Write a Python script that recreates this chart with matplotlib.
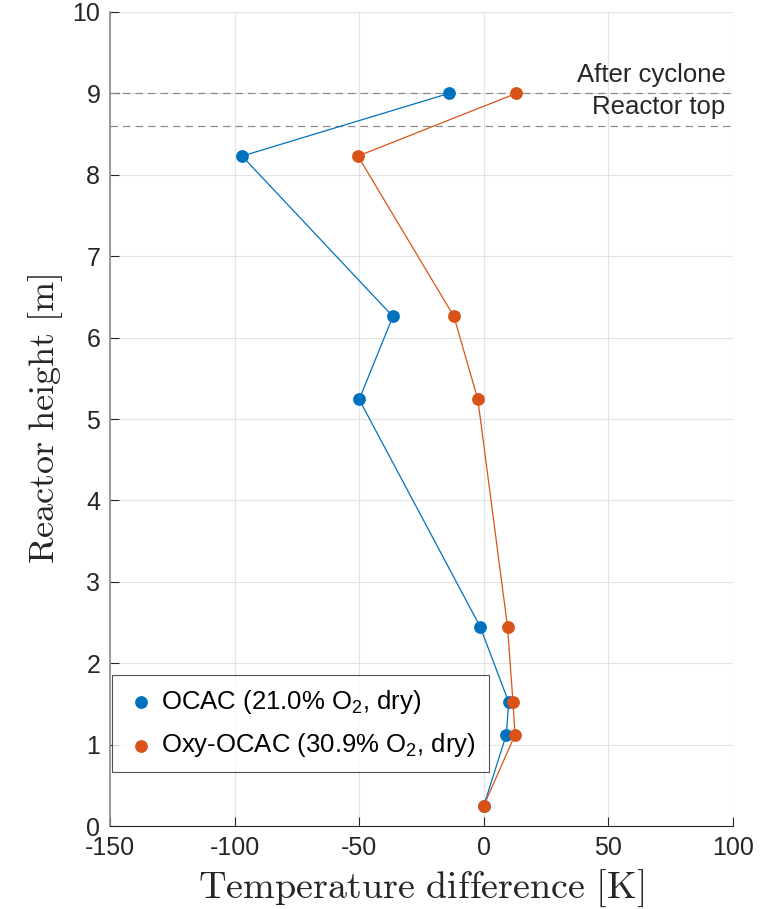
import matplotlib
matplotlib.use("Agg")
import matplotlib.pyplot as plt

plt.rcParams['font.family'] = ['Liberation Sans', 'DejaVu Sans']
plt.rcParams['mathtext.fontset'] = 'custom'
plt.rcParams['mathtext.rm'] = 'Liberation Sans'
plt.rcParams['mathtext.it'] = 'Liberation Sans:italic'

heights = [0.25, 1.12, 1.52, 2.45, 5.24, 6.26, 8.23, 9.0]
ocac = [0, 9, 10, -1.5, -50, -36.5, -97, -14]
oxy_ocac = [0, 12.5, 11.7, 9.5, -2.4, -12, -50.5, 13]
labels = ["OCAC (21.0% O$_2$, dry)", "Oxy-OCAC (30.9% O$_2$, dry)"]
ref_heights = [9.0, 8.6]
ref_labels = ["After cyclone", "Reactor top"]
xticks = [-150, -100, -50, 0, 50, 100]
yticks = list(range(0, 11))

blue = '#0072BD'
orange = '#D95319'

fig = plt.figure(figsize=(7.74, 9.09), dpi=100)
ax = fig.add_axes([0.1421, 0.0913, 0.805, 0.8955])

for yv, lab in zip(ref_heights, ref_labels):
    ax.axhline(yv, color='#8c8c8c', lw=0.9, ls=(0, (6, 4)), zorder=1)
    ax.text(97, yv + 0.08, lab, ha='right', va='bottom', fontsize=18.5, color='#262626')

ax.plot(ocac, heights, '-', color=blue, lw=0.9, zorder=2)
ax.plot(oxy_ocac, heights, '-', color=orange, lw=0.9, zorder=2)
s1 = ax.scatter(ocac, heights, s=85, color=blue, zorder=3, label=labels[0], linewidths=0)
s2 = ax.scatter(oxy_ocac, heights, s=85, color=orange, zorder=3, label=labels[1], linewidths=0)

ax.set_xlim(-150, 100)
ax.set_ylim(0, 10)
ax.set_xticks(xticks)
ax.set_yticks(yticks)
ax.set_xticklabels([str(v) for v in xticks])
ax.tick_params(direction='in', labelsize=18, length=6.5, width=0.8, colors='#262626', pad=7)
ax.grid(True, color='#e3e3e3', lw=0.8, zorder=0)
ax.set_axisbelow(True)
for sp in ['top', 'right']:
    ax.spines[sp].set_visible(False)
ax.spines['bottom'].set_color('#262626')
ax.spines['bottom'].set_linewidth(0.8)
ax.spines['left'].set_color('#8a8a8a')
ax.spines['left'].set_linewidth(1.2)

ax.set_xlabel(r'$\mathrm{Temperature\ difference\ [K]}$', fontsize=27.5,
              math_fontfamily='cm', labelpad=6, color='#262626')
ax.set_ylabel(r'$\mathrm{Reactor\ height\ [m]}$', fontsize=26,
              math_fontfamily='cm', labelpad=5, color='#262626')

leg = ax.legend(handles=[s1, s2], loc='lower left', bbox_to_anchor=(0.004, 0.066),
                fontsize=18.5, frameon=True, fancybox=False, edgecolor='#262626',
                handletextpad=0.2, handlelength=1.2, borderpad=0.5, labelspacing=0.6,
                borderaxespad=0)
leg.get_frame().set_linewidth(0.8)

fig.savefig('out.png', dpi=100)
